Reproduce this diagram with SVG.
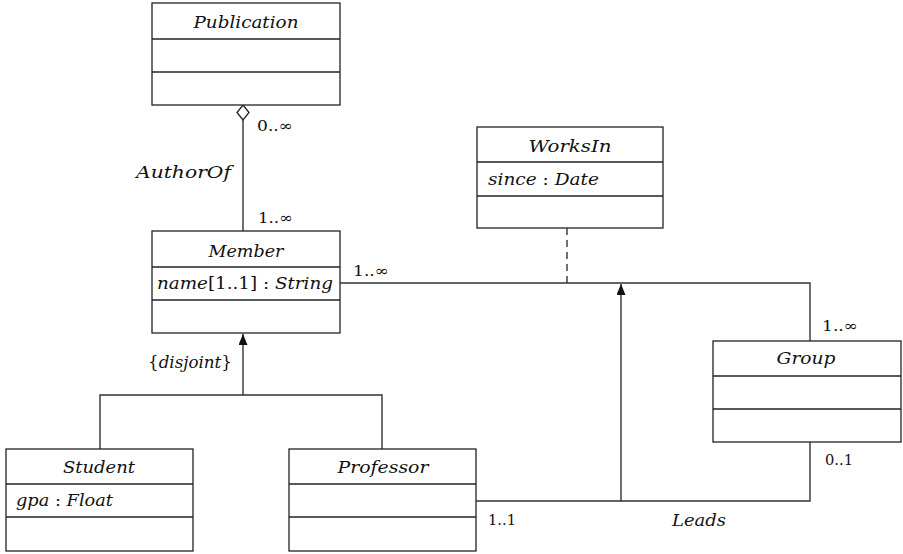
<svg xmlns="http://www.w3.org/2000/svg" width="903" height="554" viewBox="0 0 903 554">
<defs>
<marker id="tri" markerWidth="11" markerHeight="9" refX="11" refY="4.5" orient="auto" markerUnits="userSpaceOnUse" viewBox="0 0 11 9">
<path d="M0,0 L11,4.5 L0,9 Z" fill="#111"/>
</marker>
</defs>
<style>
.box{fill:#fff;stroke:#222;stroke-width:1.3}
.ln{fill:none;stroke:#333;stroke-width:1.4}
text{font-family:'DejaVu Serif','Liberation Serif',serif;fill:#111}
.it{font-style:italic;font-size:17px}
.rm{font-size:15px}
.c{text-anchor:middle}
</style>
<rect width="903" height="554" fill="#fff"/>
<g id="connectors">
<line class="ln" x1="243" y1="120" x2="243" y2="231"/>
<path d="M243,105 L249,112.5 L243,120 L237,112.5 Z" fill="#fff" stroke="#222" stroke-width="1.3"/>
<polyline class="ln" points="340,283 810,283 810,341"/>
<line class="ln" x1="567" y1="228" x2="567" y2="283" stroke-dasharray="7,5"/>
<polyline class="ln" points="476,501 810,501 810,442"/>
<line class="ln" x1="621" y1="501" x2="621" y2="284" marker-end="url(#tri)"/>
<line class="ln" x1="243" y1="395" x2="243" y2="334" marker-end="url(#tri)"/>
<polyline class="ln" points="100,449 100,395 382,395 382,449"/>
</g>
<g id="Publication">
<rect class="box" x="152" y="3" width="188" height="102"/>
<line class="box" x1="152" y1="39" x2="340" y2="39"/>
<line class="box" x1="152" y1="72" x2="340" y2="72"/>
<text class="it c" x="246" y="28" textLength="105" lengthAdjust="spacingAndGlyphs">Publication</text>
</g>
<g id="Member">
<rect class="box" x="152" y="231" width="188" height="102"/>
<line class="box" x1="152" y1="267" x2="340" y2="267"/>
<line class="box" x1="152" y1="300" x2="340" y2="300"/>
<text class="it c" x="246" y="257" textLength="75" lengthAdjust="spacingAndGlyphs">Member</text>
<text class="it" x="157" y="289" textLength="176" lengthAdjust="spacingAndGlyphs">name<tspan font-style="normal">[1..1] : </tspan>String</text>
</g>
<g id="WorksIn">
<rect class="box" x="477" y="127" width="186" height="101"/>
<line class="box" x1="477" y1="162" x2="663" y2="162"/>
<line class="box" x1="477" y1="196" x2="663" y2="196"/>
<text class="it c" x="570" y="152" textLength="83" lengthAdjust="spacingAndGlyphs">WorksIn</text>
<text class="it" x="488" y="185" textLength="111" lengthAdjust="spacingAndGlyphs">since <tspan font-style="normal">: </tspan>Date</text>
</g>
<g id="Group">
<rect class="box" x="713" y="341" width="188" height="101"/>
<line class="box" x1="713" y1="376" x2="901" y2="376"/>
<line class="box" x1="713" y1="409" x2="901" y2="409"/>
<text class="it c" x="806" y="364" textLength="59" lengthAdjust="spacingAndGlyphs">Group</text>
</g>
<g id="Student">
<rect class="box" x="6" y="449" width="187" height="102"/>
<line class="box" x1="6" y1="484" x2="193" y2="484"/>
<line class="box" x1="6" y1="517" x2="193" y2="517"/>
<text class="it c" x="99" y="473" textLength="72" lengthAdjust="spacingAndGlyphs">Student</text>
<text class="it" x="16" y="506" textLength="97" lengthAdjust="spacingAndGlyphs">gpa <tspan font-style="normal">: </tspan>Float</text>
</g>
<g id="Professor">
<rect class="box" x="289" y="449" width="187" height="102"/>
<line class="box" x1="289" y1="484" x2="476" y2="484"/>
<line class="box" x1="289" y1="517" x2="476" y2="517"/>
<text class="it c" x="383" y="473" textLength="91" lengthAdjust="spacingAndGlyphs">Professor</text>
</g>
<g id="labels">
<text class="rm" x="257" y="131" textLength="36" lengthAdjust="spacingAndGlyphs">0..∞</text>
<text class="it" x="136" y="178" textLength="95" lengthAdjust="spacingAndGlyphs">AuthorOf</text>
<text class="rm" x="258" y="223" textLength="35" lengthAdjust="spacingAndGlyphs">1..∞</text>
<text class="rm" x="353" y="276" textLength="36" lengthAdjust="spacingAndGlyphs">1..∞</text>
<text class="it" x="148" y="368" textLength="84" lengthAdjust="spacingAndGlyphs"><tspan font-style="normal">{</tspan>disjoint<tspan font-style="normal">}</tspan></text>
<text class="rm" x="822" y="331" textLength="36" lengthAdjust="spacingAndGlyphs">1..∞</text>
<text class="rm" x="825" y="465" textLength="28" lengthAdjust="spacingAndGlyphs">0..1</text>
<text class="rm" x="488" y="525" textLength="28" lengthAdjust="spacingAndGlyphs">1..1</text>
<text class="it" x="672" y="526" textLength="54" lengthAdjust="spacingAndGlyphs">Leads</text>
</g>
</svg>
